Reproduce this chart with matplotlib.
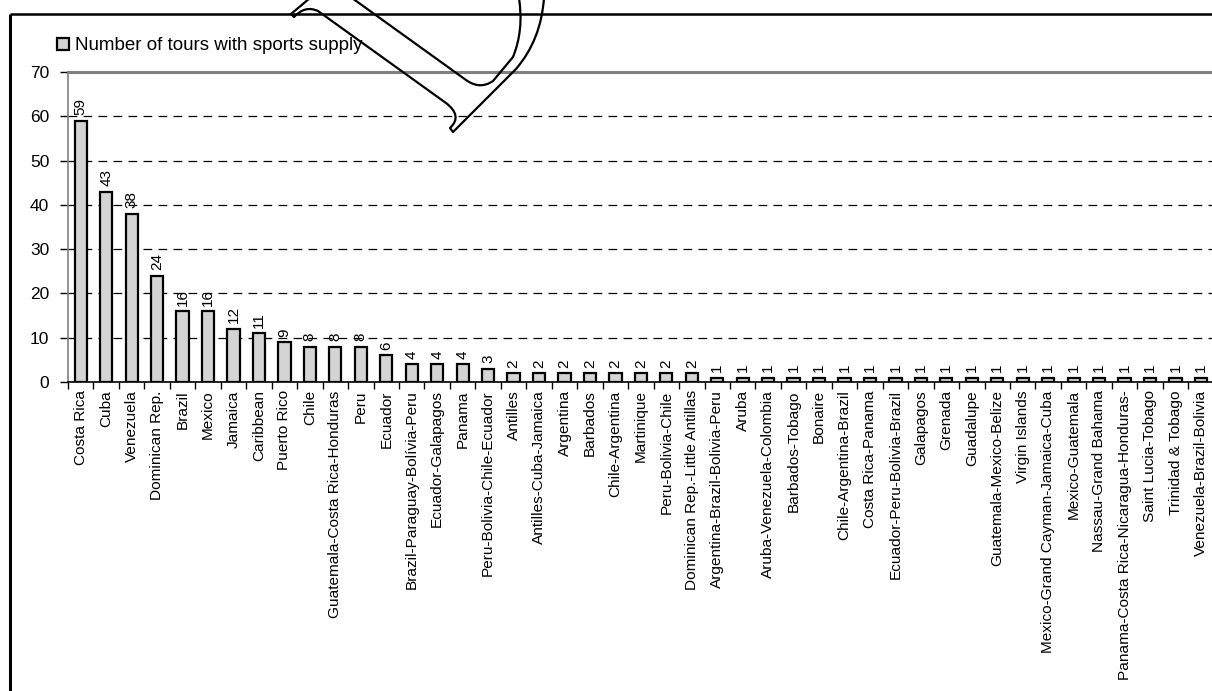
import matplotlib
matplotlib.use("Agg")
import matplotlib.pyplot as plt
from matplotlib.path import Path
from matplotlib.patches import PathPatch
import numpy as np

plt.rcParams['font.family'] = ['Liberation Sans', 'DejaVu Sans']

destinations = [
    "Costa Rica", "Cuba", "Venezuela", "Dominican Rep.", "Brazil", "Mexico",
    "Jamaica", "Caribbean", "Puerto Rico", "Chile",
    "Guatemala-Costa Rica-Honduras", "Peru", "Ecuador",
    "Brazil-Paraguay-Bolívia-Peru", "Ecuador-Galapagos", "Panama",
    "Peru-Bolivia-Chile-Ecuador", "Antilles", "Antilles-Cuba-Jamaica",
    "Argentina", "Barbados", "Chile-Argentina", "Martinique",
    "Peru-Bolivia-Chile", "Dominican Rep.-Little Antillas",
    "Argentina-Brazil-Bolivia-Peru", "Aruba", "Aruba-Venezuela-Colombia",
    "Barbados-Tobago", "Bonaire", "Chile-Argentina-Brazil",
    "Costa Rica-Panama", "Ecuador-Peru-Bolivia-Brazil", "Galapagos",
    "Grenada", "Guadalupe", "Guatemala-Mexico-Belize", "Virgin Islands",
    "Mexico-Grand Cayman-Jamaica-Cuba", "Mexico-Guatemala",
    "Nassau-Grand Bahama", "Panama-Costa Rica-Nicaragua-Honduras-",
    "Saint Lucia-Tobago", "Trinidad & Tobago", "Venezuela-Brazil-Bolivia",
]
tours = [59, 43, 38, 24, 16, 16, 12, 11, 9, 8, 8, 8, 6, 4, 4, 4, 3,
         2, 2, 2, 2, 2, 2, 2, 2,
         1, 1, 1, 1, 1, 1, 1, 1, 1, 1, 1, 1, 1, 1, 1, 1, 1, 1, 1, 1]
series_name = "Number of tours with sports supply"
y_ticks = [0, 10, 20, 30, 40, 50, 60, 70]

W, H = 1212, 691
fig = plt.figure(figsize=(W / 100, H / 100), dpi=100)

# plot area in pixel units
left_px, right_px = 68, 68 + 45 * 25.46
top_px, bottom_px = 72, 382
ax = fig.add_axes([left_px / W, 1 - bottom_px / H,
                   (right_px - left_px) / W, (bottom_px - top_px) / H])

x = np.arange(len(destinations))
ax.bar(x, tours, width=0.48, color="#d4d4d4", edgecolor="black",
       linewidth=1.6, zorder=3, label=series_name)

for xi, v in zip(x, tours):
    ax.annotate(str(v), (xi, v), xytext=(0, 4), textcoords="offset points",
                rotation=90, ha="center", va="bottom", fontsize=11, zorder=4)

ax.set_xlim(-0.5, len(destinations) - 0.5)
ax.set_ylim(0, 70)
ax.set_yticks(y_ticks)
ax.set_yticklabels([str(t) for t in y_ticks], fontsize=12.5)

for t in y_ticks[1:-1]:
    ax.axhline(t, color="black", linewidth=0.9, dashes=(7, 5), zorder=1)

ax.set_xticks(x)
ax.set_xticklabels(destinations, rotation=90, fontsize=11.1, va="top",
                   ha="center")
ax.tick_params(axis="x", length=0, pad=6)
# separators between categories on the category axis
ax.set_xticks(np.arange(len(destinations) + 1) - 0.5, minor=True)
ax.tick_params(axis="x", which="minor", length=5, width=1, direction="out",
               color="black")
ax.tick_params(axis="y", length=6, width=1, direction="out", color="black",
               pad=7.5)

ax.spines["right"].set_visible(False)
ax.spines["top"].set_color("#808080")
ax.spines["top"].set_linewidth(2.2)
ax.spines["left"].set_color("#808080")
ax.spines["left"].set_linewidth(1.2)
ax.spines["bottom"].set_color("black")
ax.spines["bottom"].set_linewidth(1.2)

fig.legend(loc="center left", bbox_to_anchor=(57 / W, 1 - 46 / H),
           frameon=False, fontsize=13.5, handlelength=0.65,
           handleheight=0.65, handletextpad=0.3, borderaxespad=0,
           borderpad=0)

# overlay for the outer frame and the outlined glyph at the top
ov = fig.add_axes([0, 0, 1, 1], zorder=10)
ov.set_xlim(0, W)
ov.set_ylim(H, 0)
ov.axis("off")
ov.patch.set_alpha(0)

ov.plot([10, W + 5], [14, 14], color="black", linewidth=1.8,
        solid_capstyle="butt")
ov.plot([10, 10], [14, H + 5], color="black", linewidth=2.2,
        solid_capstyle="butt")

M, L, C = Path.MOVETO, Path.LINETO, Path.CURVE3
outer = Path(
    [(310, -2), (291, 14), (294, 17),
     (305, 5), (318, 11),
     (446, 103),
     (463, 116), (450, 128),
     (453, 132),
     (516, 69),
     (541, 40), (544, -2)],
    [M, L, L, C, C, L, C, C, L, L, C, C])
inner = Path(
    [(352, -2), (466, 80),
     (480, 90), (493, 81),
     (513, 57),
     (524, 30), (519, -2)],
    [M, L, C, C, L, C, C])
for p in (outer, inner):
    ov.add_patch(PathPatch(p, facecolor="none", edgecolor="black",
                           linewidth=1.6, joinstyle="round", capstyle="round"))

fig.savefig("out.png", dpi=100, facecolor="white")
